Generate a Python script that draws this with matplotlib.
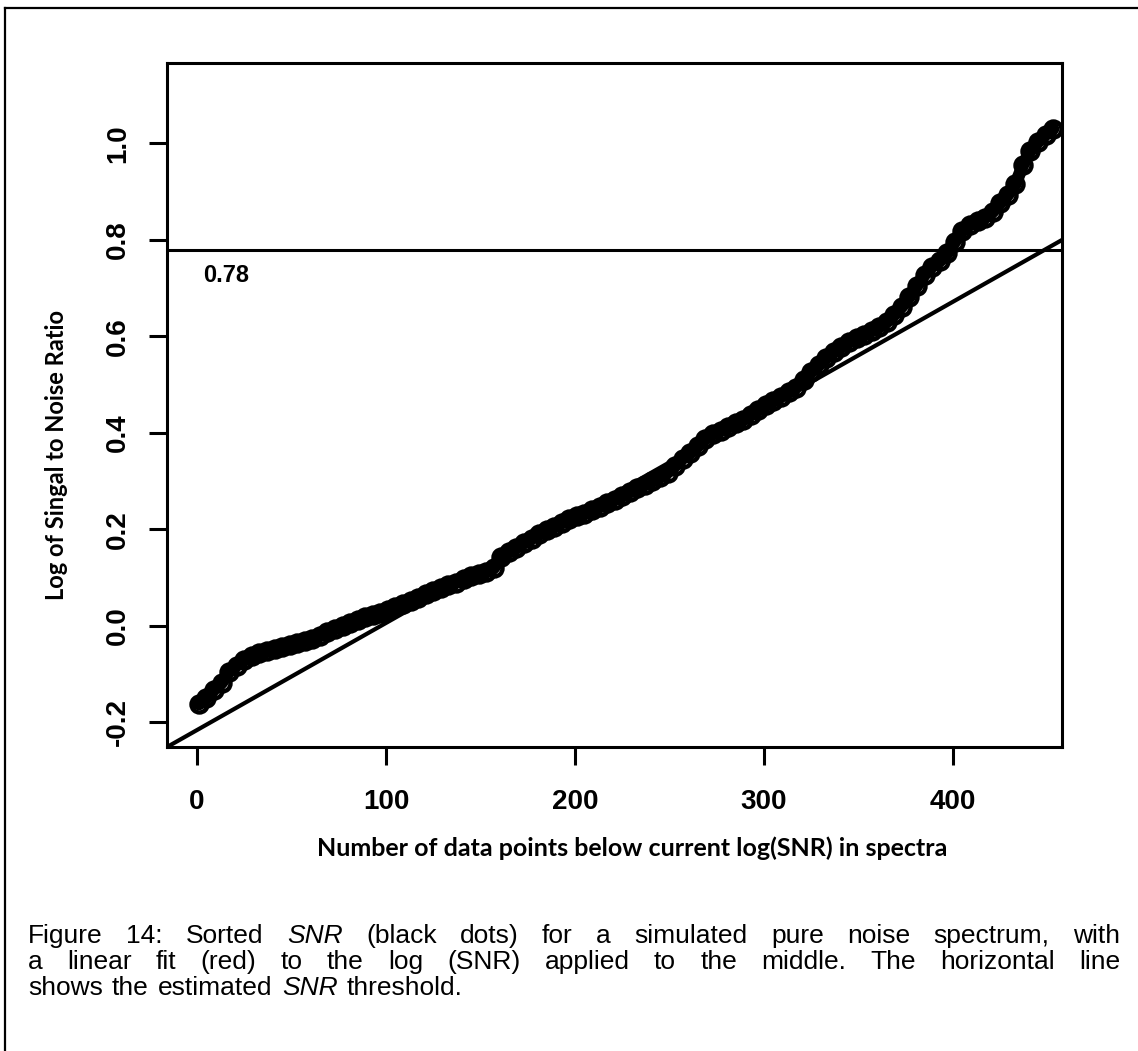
import numpy as np
import matplotlib.pyplot as plt
from matplotlib.lines import Line2D

# sorted log(SNR) values, every 4th rank
rank = np.arange(1, 454, 4)
log_snr = [
    -0.162, -0.150, -0.132, -0.118, -0.095, -0.082, -0.070, -0.063, -0.057, -0.052,
    -0.048, -0.044, -0.040, -0.036, -0.031, -0.026, -0.020, -0.013, -0.006, -0.001,
    0.006, 0.012, 0.018, 0.022, 0.027, 0.033, 0.039, 0.045, 0.052, 0.059,
    0.066, 0.072, 0.078, 0.084, 0.090, 0.097, 0.104, 0.108, 0.112, 0.120,
    0.142, 0.153, 0.162, 0.172, 0.181, 0.190, 0.198, 0.206, 0.214, 0.222,
    0.227, 0.233, 0.240, 0.247, 0.254, 0.262, 0.270, 0.278, 0.286, 0.293,
    0.300, 0.308, 0.318, 0.332, 0.347, 0.358, 0.372, 0.388, 0.398, 0.405,
    0.412, 0.420, 0.427, 0.437, 0.447, 0.457, 0.466, 0.475, 0.484, 0.494,
    0.509, 0.526, 0.540, 0.555, 0.567, 0.578, 0.588, 0.597, 0.604, 0.612,
    0.620, 0.630, 0.645, 0.662, 0.682, 0.705, 0.728, 0.745, 0.756, 0.772,
    0.796, 0.818, 0.832, 0.840, 0.846, 0.858, 0.876, 0.893, 0.915, 0.955,
    0.985, 1.003, 1.018, 1.030,
]

fit_intercept = -0.2156
fit_slope = 0.002219
threshold = 0.78

xticks = [0, 100, 200, 300, 400]
yticks = [-0.2, 0.0, 0.2, 0.4, 0.6, 0.8, 1.0]
ytick_labels = ['-0.2', '0.0', '0.2', '0.4', '0.6', '0.8', '1.0']

caption = [
    [('Figure', 0), ('14:', 0), ('Sorted', 0), ('SNR', 1), ('(black', 0), ('dots)', 0),
     ('for', 0), ('a', 0), ('simulated', 0), ('pure', 0), ('noise', 0), ('spectrum,', 0), ('with', 0)],
    [('a', 0), ('linear', 0), ('fit', 0), ('(red)', 0), ('to', 0), ('the', 0), ('log', 0),
     ('(SNR)', 0), ('applied', 0), ('to', 0), ('the', 0), ('middle.', 0), ('The', 0),
     ('horizontal', 0), ('line', 0)],
    [('shows', 0), ('the', 0), ('estimated', 0), ('SNR', 1), ('threshold.', 0)],
]

W, H = 1138, 1051
fig = plt.figure(figsize=(W / 100, H / 100), dpi=100)

# outer frame of the scanned figure (left and top edges visible)
fig.add_artist(Line2D([5 / W, 5 / W], [0, 1 - 8 / H], color='black', lw=1.6))
fig.add_artist(Line2D([5 / W, 1], [1 - 8 / H, 1 - 8 / H], color='black', lw=1.6))

ax = fig.add_axes([167 / W, 1 - 747 / H, (1062 - 167) / W, (747 - 63) / H])

# dense run of open circles -> thick band
ax.plot(rank, log_snr, '-', color='black', lw=9, solid_capstyle='round')
ax.plot(rank, log_snr, 'o', mfc='none', mec='black', ms=11.5, mew=3.2)
ax.axline((0, fit_intercept), slope=fit_slope, color='black', lw=3)
ax.axhline(threshold, color='black', lw=2.2)
ax.text(3.2, 0.727, '0.78', fontsize=17, fontweight='bold',
        family='Liberation Sans', va='center', ha='left')

ax.set_xlim(-15.9, 457.7)
ax.set_ylim(-0.2508, 1.1668)
ax.set_xticks(xticks)
ax.set_xticklabels([str(t) for t in xticks], fontsize=20, fontweight='bold',
                   family='Liberation Sans')
ax.set_yticks(yticks)
ax.set_yticklabels(ytick_labels, fontsize=20, fontweight='bold',
                   family='Liberation Sans', rotation=90, va='center')
ax.tick_params(axis='both', length=13, width=2.2)
ax.tick_params(axis='x', pad=17)
ax.tick_params(axis='y', pad=13)
for s in ax.spines.values():
    s.set_linewidth(2.2)

fig.text(632 / W, 1 - 848 / H, 'Number of data points below current log(SNR) in spectra',
         fontsize=18, fontweight='bold', family='Lato', ha='center', va='center')
fig.text(57 / W, 1 - 455 / H, 'Log of Singal to Noise Ratio',
         fontsize=17, fontweight='bold', family='Lato', rotation=90,
         ha='center', va='center')

# justified caption
renderer = fig.canvas.get_renderer()
x0, x1 = 28, 1120
baselines = [943, 969, 995]
cap_size = 19
for i, line in enumerate(caption):
    texts = []
    for word, it in line:
        t = fig.text(x0 / W, 1 - baselines[i] / H, word, fontsize=cap_size,
                     family='Liberation Sans', style='italic' if it else 'normal',
                     va='baseline', ha='left')
        texts.append(t)
    widths = [t.get_window_extent(renderer).width for t in texts]
    if i < len(caption) - 1:
        gap = (x1 - x0 - sum(widths)) / (len(texts) - 1)
    else:
        gap = cap_size * 0.35 * 100 / 72
    x = x0
    for t, w in zip(texts, widths):
        t.set_x(x / W)
        x += w + gap

fig.savefig('out.png', dpi=100)
